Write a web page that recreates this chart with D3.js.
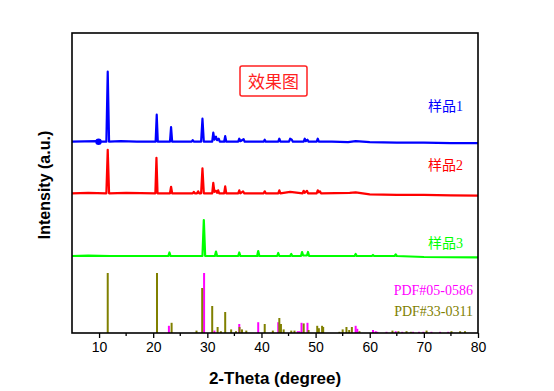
<!DOCTYPE html>
<html><head><meta charset="utf-8">
<script src="https://cdn.jsdelivr.net/npm/d3@7"></script>
<style>body{margin:0;background:#fff}svg{display:block}</style>
</head><body>
<svg id="c" width="554" height="391"></svg>
<script>
// ---- data ----
const xTicks = [10,20,30,40,50,60,70,80];
const xMinor = [15,25,35,45,55,65,75];
const sampleNames = ["样品1","样品2","样品3"];
const sampleColors = ["#0000ff","#ff0000","#00ff00"];
const sampleOffsets = [191.3,139.7,77];
const sample1 = [[5,0],[9.6,0.5],[10.5,0],[11.35,0],[11.6,70],[11.85,0],[14,0.5],[17,0],[20.45,0],[20.65,27],[20.85,0],[23.1,0],[23.3,14.5],[23.5,0],[27.1,0],[27.3,1.5],[27.5,0],[28.85,0],[29.1,23],[29.35,0],[30.9,0],[31.1,9],[31.3,2],[31.6,5],[31.8,1.5],[32.1,3],[32.3,0],[33.1,0],[33.3,5.5],[33.5,0],[35.7,0],[35.9,3],[36.1,0.5],[36.7,2.5],[36.9,0],[40.4,0],[40.6,2],[40.8,0],[43.1,0],[43.3,3],[43.5,0],[45.1,0],[45.3,3],[45.6,2],[45.8,0],[47.8,0],[48,3],[48.2,0.5],[48.5,2],[48.7,0],[50.2,0],[50.4,3],[50.6,0],[53,0],[56,-0.5],[57.4,0.5],[60,-0.5],[65,-1],[70,-1],[75,-1.5],[80,-1.5]];
const sample2 = [[5,0],[8,0.5],[11.35,0],[11.6,43.5],[11.85,0],[15,0.5],[20.4,0],[20.6,35.5],[20.8,0],[23.1,0],[23.3,6.5],[23.5,0],[27.3,0],[27.5,1.5],[27.7,0],[28.1,0],[28.3,2],[28.5,0],[28.85,0],[29.1,25],[29.35,0],[30.9,0],[31.1,10.5],[31.3,1.5],[31.6,2.5],[31.8,0.5],[32.0,3],[32.2,0],[33.1,0],[33.3,7],[33.5,0],[35.7,0],[35.9,3],[36.1,0],[36.6,2],[36.8,0],[40.4,0],[40.6,2],[40.8,0],[43.1,0],[43.3,3],[43.5,0],[45.3,1.5],[47.6,0],[47.8,2.5],[48,0.5],[48.4,2.5],[48.6,0],[50.2,0],[50.4,3],[50.6,1],[50.8,2],[51,0],[56.3,0.5],[57.4,1],[60,-1],[65,-1.5],[70,-1.5],[75,-2],[80,-2.3]];
const sample3 = [[5,0],[8,0.3],[12,0],[20,0],[22.8,0],[23.0,3.5],[23.2,0],[29.1,0],[29.35,36],[29.6,0],[31.4,0],[31.6,4.5],[31.8,0],[35.7,0],[35.9,3.5],[36.1,0],[39.2,0],[39.4,5],[39.6,0],[42.9,0],[43.1,3],[43.3,0],[45.3,0],[45.5,2],[45.7,0],[47.3,0],[47.5,4],[47.7,0.5],[48.4,0.5],[48.6,4],[48.8,0],[57.2,0],[57.4,2],[57.6,0],[60.4,0],[60.6,1],[60.8,0],[64.6,0],[64.8,1.5],[65,0],[70,-1],[80,-1.3]];
const sample1Markers = [9.9];
const refNames = ["PDF#05-0586","PDF#33-0311"];
const refColors = ["#ff00ff","#808000"];
const ref0586 = [[22.9,12],[29.4,100],[31.3,4],[35.9,15],[39.4,18],[43.1,18],[46.7,3],[47.0,3],[47.4,17],[48.5,17],[57.4,12],[57.7,7],[60.6,5],[61.1,3],[61.4,2],[63.1,2],[64.8,3],[66.0,2],[68.0,2],[69.1,2],[69.9,2],[71.4,2],[73.0,2],[74.5,2]];
const ref0311 = [[11.6,100],[20.7,100],[23.4,17],[28.0,4],[29.05,75],[30.9,45],[31.9,10],[32.5,3],[33.3,35],[34.4,6],[35.3,3],[35.95,10],[36.4,6],[37.2,4],[40.6,15],[42.1,4],[43.3,25],[43.6,15],[44.1,6],[45.5,4],[46.1,4],[47.8,16],[48.7,5],[50.3,12],[50.6,8],[51.2,12],[51.4,10],[54.4,2],[55.0,6],[55.7,10],[56.2,5],[56.7,10],[58.1,3],[64.2,4],[65.3,3],[66.8,3],[67.6,2],[70.5,4],[75.1,3],[76.7,3],[77.6,3]];

// ---- layout ----
const L=72, R=478, T=33, B=333;
const svg = d3.select("#c");
const x = d3.scaleLinear().domain([5,80]).range([L,R]);
const y = d3.scaleLinear().domain([0,300]).range([B,T]);
const yS = d3.scaleLinear().domain([0,100]).range([B,B-60]);

// reference sticks
[ref0586, ref0311].forEach((ref,i)=>{
  svg.append("g").selectAll("line").data(ref).join("line")
    .attr("x1",d=>x(d[0])).attr("x2",d=>x(d[0]))
    .attr("y1",yS(0)).attr("y2",d=>yS(d[1]))
    .attr("stroke",refColors[i]).attr("stroke-width",2);
});

// sample curves
const series=[sample1,sample2,sample3];
series.forEach((s,i)=>{
  const off=sampleOffsets[i];
  svg.append("path").datum(s)
    .attr("d",d3.line().x(d=>x(d[0])).y(d=>y(d[1]+off)))
    .attr("fill","none").attr("stroke",sampleColors[i]).attr("stroke-width",2.2)
    .attr("stroke-linejoin","round");
});
svg.append("g").selectAll("circle").data(sample1Markers).join("circle")
  .attr("cx",d=>x(d)).attr("cy",y(sampleOffsets[0])).attr("r",3.2).attr("fill","#0000ff");

// sample labels
const labelY=[111,170,248];
sampleNames.forEach((n,i)=>{
  svg.append("text").attr("x",463).attr("y",labelY[i]).attr("text-anchor","end")
    .attr("font-family","'Liberation Serif','Noto Sans CJK SC'").attr("font-size",14)
    .attr("fill",sampleColors[i]).text(n);
});
const refLabelY=[295,316];
refNames.forEach((n,i)=>{
  svg.append("text").attr("x",473).attr("y",refLabelY[i]).attr("text-anchor","end")
    .attr("font-family","'Liberation Serif'").attr("font-size",14)
    .attr("fill",refColors[i]).text(n);
});

// title box
svg.append("rect").attr("x",240).attr("y",66).attr("width",67).attr("height",30).attr("rx",2)
  .attr("fill","none").attr("stroke","#ff2020").attr("stroke-width",1.5);
svg.append("text").attr("x",273.5).attr("y",87.5).attr("text-anchor","middle")
  .attr("font-family","'Noto Sans CJK SC'").attr("font-size",17).attr("fill","#ff2020").text("效果图");

// axes
svg.append("rect").attr("x",L).attr("y",T).attr("width",R-L).attr("height",B-T)
  .attr("fill","none").attr("stroke","#000").attr("stroke-width",1.6);
const ax = svg.append("g").attr("transform",`translate(0,${B})`)
  .call(d3.axisBottom(x).tickValues(xTicks).tickSize(5).tickPadding(4).tickFormat(d3.format("d")));
ax.select(".domain").remove();
ax.selectAll("line").attr("stroke-width",1.3);
ax.selectAll("text").attr("font-family","'Liberation Sans',Arial").attr("font-size",14).attr("fill","#000");
svg.append("g").selectAll("line").data(xMinor).join("line")
  .attr("x1",d=>x(d)).attr("x2",d=>x(d)).attr("y1",B).attr("y2",B+3)
  .attr("stroke","#000").attr("stroke-width",1.3);

svg.append("text").attr("x",(L+R)/2).attr("y",384).attr("text-anchor","middle")
  .attr("font-family","'Liberation Sans',Arial").attr("font-weight","bold").attr("font-size",17)
  .text("2-Theta (degree)");
svg.append("text").attr("transform",`translate(50,${(T+B)/2+2}) rotate(-90)`).attr("text-anchor","middle")
  .attr("font-family","'Liberation Sans',Arial").attr("font-weight","bold").attr("font-size",16)
  .text("Intensity (a.u.)");
</script>
</body></html>
